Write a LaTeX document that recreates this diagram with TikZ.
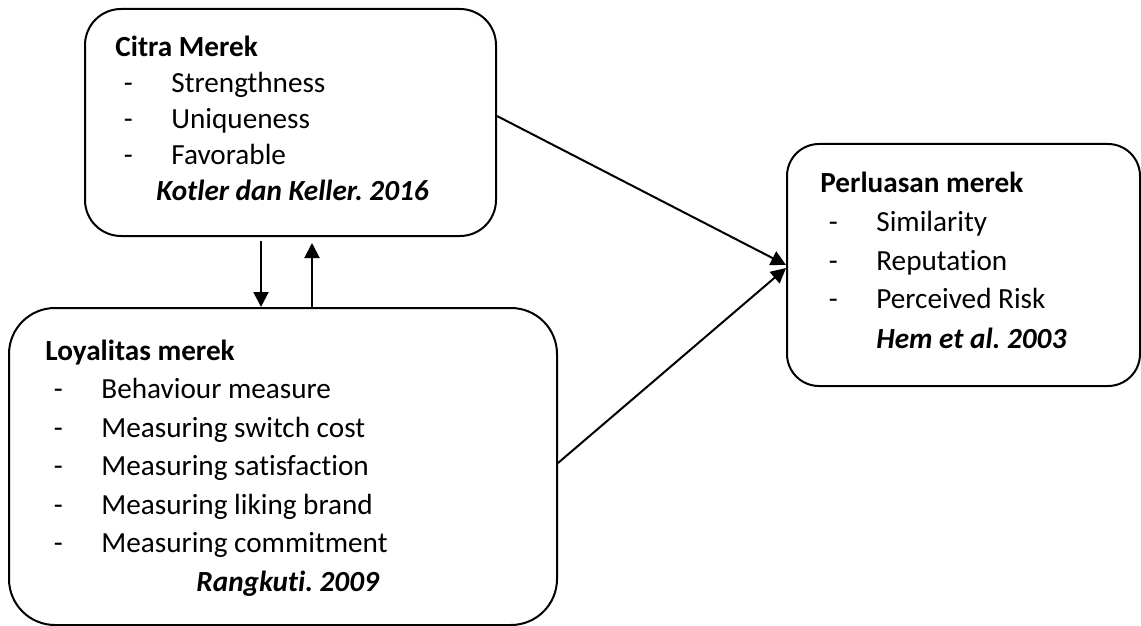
\documentclass[tikz,border=0pt]{standalone}
\usepackage{fontspec}
\setmainfont{Carlito}[Ligatures={NoCommon}]
\usetikzlibrary{calc,arrows.meta}
\frenchspacing

\begin{document}
\begin{tikzpicture}[
	x=0.5pt,y=-0.5pt,
	box/.style={draw,line width=1pt,rectangle},
	list/.style={inner sep=0,anchor=base west},
	directed/.style={line width=1pt,arrows={-Triangle[length=7.5pt,width=7.5pt]}}]
	\useasboundingbox (0,0) rectangle (1141,626);
	% the three boxes
	\node[box,rounded corners=18pt,minimum width=205.5pt,minimum height=113.5pt] (citra) at (290.5,122.5) {};
	\node[box,rounded corners=16pt,minimum width=176.5pt,minimum height=121pt] (perluasan) at (963.5,265) {};
	\node[box,rounded corners=23pt,minimum width=274pt,minimum height=158.5pt] (loyalitas) at (283,466.5) {};
	% their texts
	\node[list,font=\fontsize{14.6}{18}\selectfont] (citraText) at (115,57) {\begin{tabular}[t]{@{\hspace{4.25pt}}p{23.75pt}@{}l@{}}
		\multicolumn{2}{@{}l@{}}{\textbf{Citra Merek}}\\
		- & Strengthness\\
		- & Uniqueness\\
		- & Favorable\\
		\multicolumn{2}{@{}l@{}}{\hspace{20.5pt}\textbf{\textit{Kotler dan Keller. 2016}}}
	\end{tabular}};
	\node[list,font=\fontsize{14.6}{19.5}\selectfont] (perluasanText) at (820,192) {\begin{tabular}[t]{@{\hspace{4.25pt}}p{23.75pt}@{}l@{}}
		\multicolumn{2}{@{}l@{}}{\textbf{Perluasan merek}}\\
		- & Similarity\\
		- & Reputation\\
		- & Perceived Risk\\
		\multicolumn{2}{@{}l@{}}{\hspace{28pt}\textbf{\textit{Hem et al. 2003}}}
	\end{tabular}};
	\node[list,font=\fontsize{14.6}{19.25}\selectfont] (loyalitasText) at (45,360) {\begin{tabular}[t]{@{\hspace{4.25pt}}p{23.75pt}@{}l@{}}
		\multicolumn{2}{@{}l@{}}{\textbf{Loyalitas merek}}\\
		- & Behaviour measure\\
		- & Measuring switch cost\\
		- & Measuring satisfaction\\
		- & Measuring liking brand\\
		- & Measuring commitment\\
		\multicolumn{2}{@{}l@{}}{\hspace{75.5pt}\textbf{\textit{Rangkuti. 2009}}}
	\end{tabular}};
	% arrows
	\coordinate (down) at ($(citra.south)+(-29.5,4)$);
	\coordinate (up) at ($(citra.south)+(21.5,6)$);
	\draw[directed] (down) -- (down |- loyalitas.north);
	\draw[directed] (up |- loyalitas.north) -- (up);
	\draw[directed] ([yshift=3.25pt]citra.east) -- (perluasan.west);
	\draw[directed] ([yshift=1.75pt]loyalitas.east) -- ([yshift=-1.5pt]perluasan.west);
\end{tikzpicture}
\end{document}
